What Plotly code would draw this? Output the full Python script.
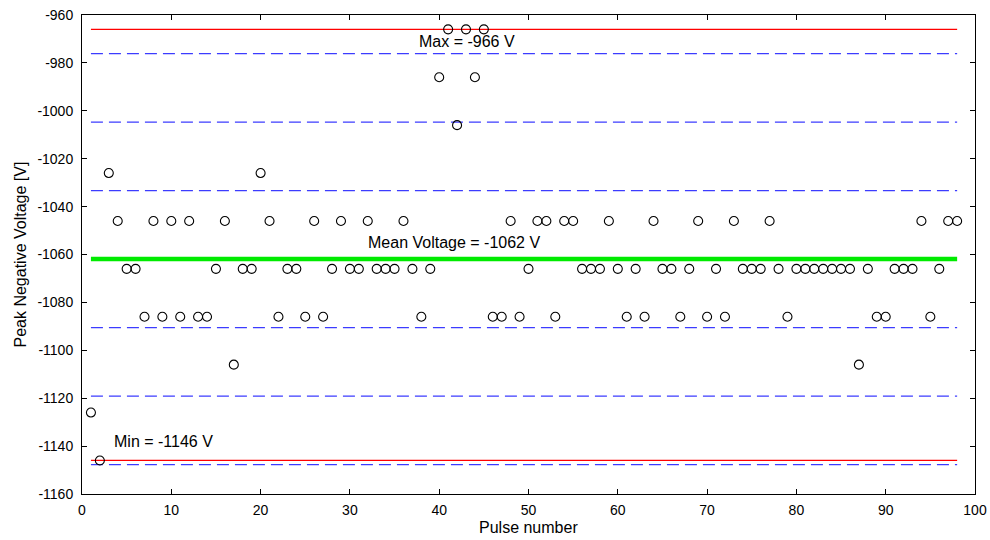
import plotly.graph_objects as go

pulse = list(range(1, 99))
voltage = [
    -1126, -1146, -1026, -1046, -1066, -1066, -1086, -1046, -1086, -1046,
    -1086, -1046, -1086, -1086, -1066, -1046, -1106, -1066, -1066, -1026,
    -1046, -1086, -1066, -1066, -1086, -1046, -1086, -1066, -1046, -1066,
    -1066, -1046, -1066, -1066, -1066, -1046, -1066, -1086, -1066, -986,
    -966, -1006, -966, -986, -966, -1086, -1086, -1046, -1086, -1066,
    -1046, -1046, -1086, -1046, -1046, -1066, -1066, -1066, -1046, -1066,
    -1086, -1066, -1086, -1046, -1066, -1066, -1086, -1066, -1046, -1086,
    -1066, -1086, -1046, -1066, -1066, -1066, -1046, -1066, -1086, -1066,
    -1066, -1066, -1066, -1066, -1066, -1066, -1106, -1066, -1086, -1086,
    -1066, -1066, -1066, -1046, -1086, -1066, -1046, -1046,
]

mean_v = -1061.9
sigma_v = 28.6
max_v = -966
min_v = -1146
sigma_levels = [3, 2, 1, -1, -2, -3]

x_ticks = list(range(0, 101, 10))
y_ticks = list(range(-1160, -959, 20))

FONT = "Liberation Sans, Arial, sans-serif"
FS_TEXT = 16
FS_TICK = 14

fig = go.Figure()
x_span = [pulse[0], pulse[-1]]

for k in sigma_levels:
    lvl = mean_v + k * sigma_v
    fig.add_trace(go.Scatter(x=x_span, y=[lvl, lvl], mode="lines",
                             line=dict(color="rgb(60,60,255)", width=1.2, dash="12px,6px"),
                             hoverinfo="skip", showlegend=False))
for lvl in (max_v, min_v):
    fig.add_trace(go.Scatter(x=x_span, y=[lvl, lvl], mode="lines",
                             line=dict(color="red", width=1.2),
                             hoverinfo="skip", showlegend=False))
fig.add_trace(go.Scatter(x=x_span, y=[mean_v, mean_v], mode="lines",
                         line=dict(color="rgb(0,235,0)", width=4.5),
                         hoverinfo="skip", showlegend=False))

fig.add_trace(go.Scatter(x=pulse, y=voltage, mode="markers",
                         marker=dict(symbol="circle-open", size=9, color="black",
                                     line=dict(width=1.1, color="black")),
                         showlegend=False))

txt_font = dict(size=FS_TEXT, color="black", family=FONT)
fig.add_annotation(x=37.5, y=max_v - 5, text=f"Max = {max_v} V", showarrow=False,
                   xanchor="left", yanchor="middle", font=txt_font)
fig.add_annotation(x=31.8, y=round(mean_v) + 7, text=f"Mean Voltage = {round(mean_v)} V", showarrow=False,
                   xanchor="left", yanchor="middle", font=txt_font)
fig.add_annotation(x=3.4, y=min_v + 8, text=f"Min = {min_v} V", showarrow=False,
                   xanchor="left", yanchor="middle", font=txt_font)

# axis titles placed in pixels relative to the plot edges
fig.add_annotation(xref="paper", yref="paper", x=0.5, y=0, yshift=-33,
                   text="Pulse number", showarrow=False, xanchor="center", yanchor="middle",
                   font=txt_font)
fig.add_annotation(xref="paper", yref="paper", x=0, y=0.5, xshift=-62,
                   text="Peak Negative Voltage [V]", showarrow=False, textangle=-90,
                   xanchor="center", yanchor="middle", font=txt_font)

axis_common = dict(showgrid=False, zeroline=False, showline=True, linecolor="black",
                   linewidth=1, mirror="ticks", ticks="inside", ticklen=5,
                   tickcolor="black", automargin=False,
                   tickfont=dict(size=FS_TICK, color="black", family=FONT))

fig.update_xaxes(range=[0, 100], tickvals=x_ticks, ticktext=[str(v) for v in x_ticks],
                 ticklabelstandoff=3, **axis_common)
fig.update_yaxes(range=[-1160, -960], tickvals=y_ticks, ticktext=[str(v) for v in y_ticks],
                 ticklabelstandoff=5, **axis_common)

fig.update_layout(width=990, height=540, plot_bgcolor="white", paper_bgcolor="white",
                  margin=dict(l=82, r=15, t=15, b=46), showlegend=False)

fig.write_html("out.html", config={"displayModeBar": False},
               post_script="document.body.style.margin='0px';")
